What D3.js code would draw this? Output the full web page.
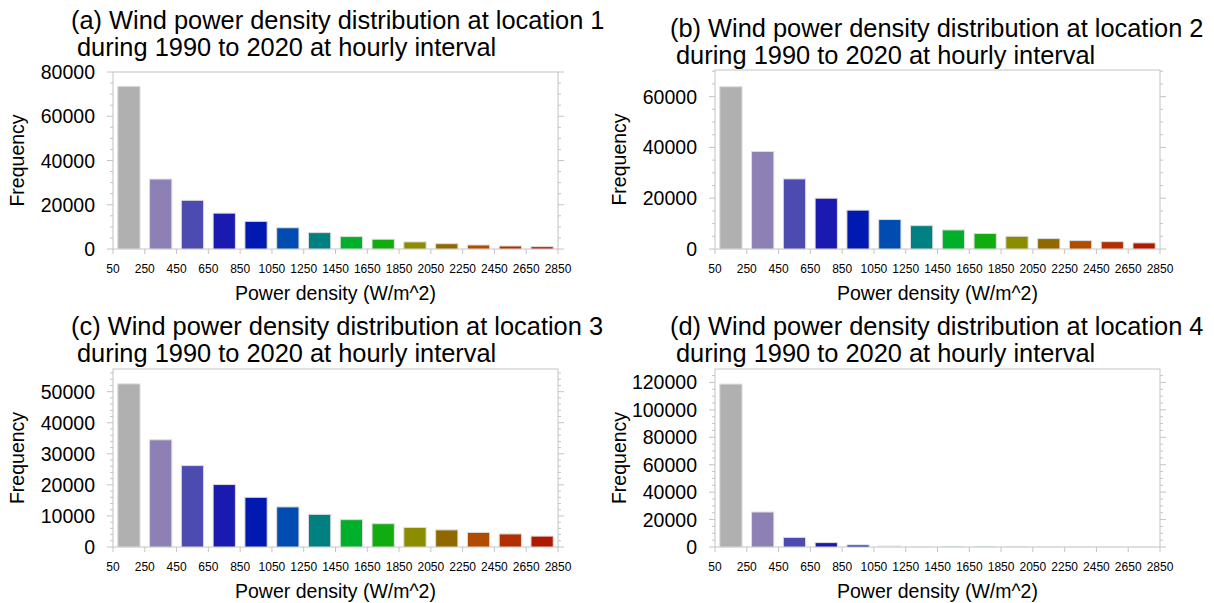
<!DOCTYPE html>
<html>
<head>
<meta charset="utf-8">
<script src="https://cdn.jsdelivr.net/npm/d3@7"></script>
<style>
  body { margin: 0; background: #fff; }
  svg text { font-family: "Liberation Sans", Arial, Helvetica, sans-serif; fill: #000; }
</style>
</head>
<body>
<div id="chart"></div>
<script>
// bin edges (tick labels on the x axis)
var binEdges = [50, 250, 450, 650, 850, 1050, 1250, 1450, 1650, 1850, 2050, 2250, 2450, 2650, 2850];

// frequency per bin
var freqLoc1 = [73500, 31600, 22000, 16200, 12500, 9600, 7400, 5600, 4400, 3200, 2400, 1800, 1350, 1050];
var freqLoc2 = [63900, 38400, 27600, 20000, 15300, 11600, 9200, 7500, 6100, 5000, 4100, 3300, 2900, 2400];
var freqLoc3 = [52500, 34500, 26200, 20100, 16000, 12900, 10500, 8800, 7500, 6300, 5500, 4700, 4200, 3500];
var freqLoc4 = [118800, 25500, 7000, 3200, 1500, 700, 400, 250, 150, 80, 30, 15, 8, 4];

var barColors = ["#b0b0b0", "#8c80b4", "#4b4bb0", "#1a19b0", "#0019b0", "#004cb0", "#008080",
                 "#00b02a", "#10ac10", "#8c8c00", "#906800", "#b04b00", "#b03000", "#b01800"];

var titles = [
  ["(a) Wind power density distribution at location 1", "during 1990 to 2020 at hourly interval"],
  ["(b) Wind power density distribution at location 2", "during 1990 to 2020 at hourly interval"],
  ["(c) Wind power density distribution at location 3", "during 1990 to 2020 at hourly interval"],
  ["(d) Wind power density distribution at location 4", "during 1990 to 2020 at hourly interval"]
];

var panels = [
  {values: freqLoc1, left: 113, top: 72,  width: 445, height: 177, yMax: 80000,  major: 20000, minor: 5000, titleX: 71,  titleY: 29},
  {values: freqLoc2, left: 715, top: 70,  width: 445, height: 179, yMax: 70500,  major: 20000, minor: 5000, titleX: 670, titleY: 37},
  {values: freqLoc3, left: 113, top: 369, width: 445, height: 178, yMax: 57300,  major: 10000, minor: 2000, titleX: 71,  titleY: 335},
  {values: freqLoc4, left: 715, top: 369, width: 445, height: 178, yMax: 129800, major: 20000, minor: 5000, titleX: 670, titleY: 335}
];

var svg = d3.select("#chart").append("svg")
    .attr("width", 1214)
    .attr("height", 603);

var frameColor = "#c4c4c4";

panels.forEach(function (p, k) {
    var g = svg.append("g").attr("transform", "translate(" + p.left + "," + p.top + ")");

    var x = d3.scaleLinear().domain([binEdges[0], binEdges[binEdges.length - 1]]).range([0, p.width]);
    var y = d3.scaleLinear().domain([0, p.yMax]).range([p.height, 0]);
    var binW = x(binEdges[1]) - x(binEdges[0]);
    var barW = binW * 0.7;

    // frame
    g.append("rect")
        .attr("width", p.width).attr("height", p.height)
        .attr("fill", "none").attr("stroke", frameColor).attr("stroke-width", 1);

    // bars
    g.selectAll("rect.bar").data(p.values).enter().append("rect")
        .attr("class", "bar")
        .attr("x", function (d, i) { return x(binEdges[i]) + (binW - barW) / 2; })
        .attr("y", function (d) { return y(d); })
        .attr("width", barW)
        .attr("height", function (d) { return p.height - y(d); })
        .attr("fill", function (d, i) { return barColors[i]; })
        .attr("stroke", "#dcdcdc").attr("stroke-width", 1);

    // y ticks, both sides
    var minorVals = d3.range(0, p.yMax + 1, p.minor).filter(function (v) { return v % p.major !== 0; });
    var majorVals = d3.range(0, p.yMax + 1, p.major);

    [[-1, 0], [1, p.width]].forEach(function (side) {
        var dir = side[0], x0 = side[1];
        g.selectAll(null).data(minorVals).enter().append("line")
            .attr("x1", x0).attr("x2", x0 + dir * 3)
            .attr("y1", function (d) { return y(d); }).attr("y2", function (d) { return y(d); })
            .attr("stroke", frameColor);
        g.selectAll(null).data(majorVals).enter().append("line")
            .attr("x1", x0).attr("x2", x0 + dir * 6)
            .attr("y1", function (d) { return y(d); }).attr("y2", function (d) { return y(d); })
            .attr("stroke", frameColor);
    });

    // x ticks at bin edges
    g.selectAll(null).data(binEdges).enter().append("line")
        .attr("x1", function (d) { return x(d); }).attr("x2", function (d) { return x(d); })
        .attr("y1", p.height).attr("y2", p.height + 5)
        .attr("stroke", frameColor);

    // y tick labels
    g.selectAll(null).data(majorVals).enter().append("text")
        .attr("x", -18).attr("y", function (d) { return y(d); })
        .attr("dy", "0.36em")
        .attr("text-anchor", "end")
        .style("font-size", "19.5px")
        .text(function (d) { return d; });

    // x tick labels
    g.selectAll(null).data(binEdges).enter().append("text")
        .attr("x", function (d) { return x(d); }).attr("y", p.height + 24)
        .attr("text-anchor", "middle")
        .style("font-size", "12px")
        .text(function (d) { return d; });

    // axis titles
    g.append("text")
        .attr("x", p.width / 2).attr("y", p.height + 51)
        .attr("text-anchor", "middle")
        .style("font-size", "19.5px")
        .text("Power density (W/m^2)");

    g.append("text")
        .attr("transform", "translate(-89," + (p.height / 2) + ") rotate(-90)")
        .attr("text-anchor", "middle")
        .style("font-size", "19.5px")
        .text("Frequency");

    // two-line title
    svg.append("text")
        .attr("x", p.titleX).attr("y", p.titleY)
        .style("font-size", "25.4px")
        .text(titles[k][0]);
    svg.append("text")
        .attr("x", p.titleX + 6).attr("y", p.titleY + 27)
        .style("font-size", "25.4px")
        .text(titles[k][1]);
});
</script>
</body>
</html>
